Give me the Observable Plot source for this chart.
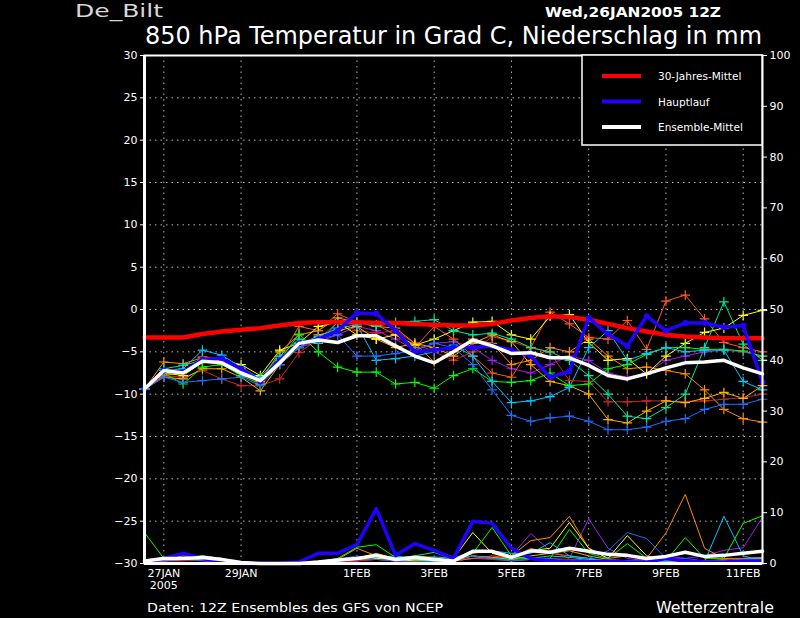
<!DOCTYPE html>
<html>
<head>
<meta charset="utf-8">
<script src="https://cdn.jsdelivr.net/npm/d3@7"></script>
<script src="https://cdn.jsdelivr.net/npm/@observablehq/plot@0.6"></script>
<style>
  body { margin: 0; background: #000; }
  #chart { width: 800px; height: 618px; }
</style>
</head>
<body>
<div id="chart"></div>
<script>
// 12-hourly steps from 26JAN2005 12Z to 11FEB2005 12Z
const start = Date.UTC(2005, 0, 26, 12)
const times = d3.range(33).map(i => new Date(start + i * 12 * 3600e3))

const dateTicks = [27, 29, 32, 34, 36, 38, 40, 42].map(d => new Date(Date.UTC(2005, 0, d)))
const leftTicks = d3.range(-30, 31, 5)
const rightTicks = [0, 10, 20, 30, 40, 50, 60, 70, 80, 90, 100]

// 850 hPa temperatures (deg C)
const climate = [-3.3,-3.3,-3.3,-2.9,-2.6,-2.4,-2.2,-1.9,-1.6,-1.5,-1.5,-1.5,-1.6,-1.6,-1.7,-1.8,-1.9,-1.9,-1.7,-1.3,-1.0,-0.8,-0.9,-1.2,-1.7,-2.2,-2.6,-3.0,-3.2,-3.3,-3.4,-3.4,-3.4]
const mainRun = [-9.4,-7.2,-7.4,-5.9,-5.8,-7.0,-8.5,-6.0,-4.0,-3.5,-2.5,-0.4,-0.5,-2.5,-5.0,-4.8,-4.5,-4.5,-4.3,-4.8,-5.5,-8.0,-7.3,-1.0,-2.9,-4.3,-0.8,-2.5,-1.6,-1.6,-2.1,-1.9,-8.6]
const ensMean = [-9.4,-7.2,-7.5,-6.1,-6.3,-7.5,-8.4,-6.3,-4.0,-3.6,-3.9,-3.1,-3.1,-4.3,-5.5,-6.3,-5.0,-3.6,-4.3,-5.2,-5.1,-5.7,-5.7,-6.6,-7.8,-8.2,-7.6,-6.9,-6.3,-6.2,-6.0,-6.9,-7.6]

const tDodger = [-9.4,-8.0,-8.6,-8.4,-8.2,-8.0,-9.0,-6.5,-4.5,-3.5,-3.0,-5.5,-5.5,-5.2,-4.8,-4.0,-4.5,-6.5,-9.5,-12.5,-13.2,-12.8,-12.6,-13.2,-14.2,-14.2,-13.9,-13.2,-12.9,-11.8,-11.2,-11.2,-10.6]
const tCyan = [-9.4,-7.2,-7.0,-4.8,-5.4,-6.8,-8.2,-5.8,-4.0,-3.2,-2.2,-1.8,-6.0,-5.8,-5.5,-5.0,-4.2,-5.5,-8.5,-11.0,-10.8,-10.3,-9.2,-4.5,-2.5,-6.0,-5.2,-4.5,-5.0,-4.8,-4.8,-8.5,-9.5]
const tGreen = [-9.4,-7.5,-8.8,-6.8,-6.5,-7.8,-8.8,-6.0,-2.9,-5.0,-6.8,-7.4,-7.4,-8.8,-8.6,-9.3,-7.8,-7.0,-8.5,-8.6,-8.4,-7.5,-9.0,-8.8,-7.0,-6.5,-5.3,-4.5,-4.5,-4.7,-4.7,-4.9,-5.5]
const tSpring = [-9.4,-7.0,-6.6,-6.0,-5.8,-7.5,-8.0,-5.5,-3.5,-4.0,-1.5,-1.5,-2.0,-1.5,-1.4,-1.2,-2.5,-3.0,-2.8,-3.5,-4.5,-5.0,-6.0,-7.8,-10.0,-12.6,-12.9,-11.6,-10.0,-4.5,0.9,-4.1,-6.0]
const tYellow = [-9.4,-7.5,-7.8,-6.2,-6.0,-6.5,-7.8,-4.8,-4.0,-2.0,-1.5,-3.0,-3.5,-3.0,-4.2,-3.5,-2.5,-1.5,-1.4,-3.0,-3.5,-0.8,-0.6,-3.9,-6.0,-5.8,-7.6,-5.5,-4.0,-2.7,-2.2,-0.7,-0.1]
const tGold = [-9.4,-8.0,-8.2,-7.0,-7.0,-8.0,-9.6,-6.5,-4.5,-3.0,-2.5,-2.0,-3.5,-4.5,-4.0,-4.5,-5.5,-4.0,-3.0,-3.8,-6.5,-8.5,-9.0,-10.0,-13.0,-13.4,-12.0,-10.8,-11.0,-10.5,-9.8,-10.5,-9.0]
const tOrange = [-9.4,-6.2,-6.4,-5.7,-6.5,-7.0,-8.5,-5.0,-3.0,-2.5,-1.0,-1.5,-2.0,-2.2,-4.0,-6.2,-5.0,-3.5,-4.0,-6.5,-6.0,-4.5,-5.0,-3.5,-5.5,-7.0,-6.8,-7.2,-7.6,-9.5,-11.8,-12.9,-13.3]
const tOrangeRed = [-9.4,-7.8,-7.4,-5.6,-5.8,-7.2,-8.8,-5.8,-2.0,-2.5,-0.5,-1.5,-1.8,-3.0,-4.5,-2.0,-3.5,-5.5,-7.5,-8.0,-4.5,-0.3,-1.7,-3.3,-3.5,-1.3,-4.7,1.0,1.7,-1.1,-3.9,-4.5,-5.0]
const tFirebrick = [-9.4,-7.8,-8.0,-7.2,-8.2,-9.0,-9.0,-8.2,-5.1,-3.5,-1.5,-2.5,-2.8,-2.5,-4.0,-5.0,-6.0,-5.0,-3.2,-3.8,-4.5,-5.1,-8.4,-8.5,-10.9,-10.9,-10.8,-10.8,-10.9,-10.8,-10.6,-10.4,-10.0]
const tPurple = [-9.4,-7.5,-7.2,-6.2,-6.0,-7.2,-8.6,-6.5,-4.5,-3.8,-3.0,-2.0,-2.5,-3.5,-4.8,-4.0,-3.8,-4.5,-6.0,-7.0,-7.5,-6.5,-5.5,-6.0,-7.5,-8.0,-7.5,-6.0,-5.5,-5.0,-4.8,-5.0,-5.5]

// precipitation (mm), right axis
const pMain = [0.3,1.0,2.0,1.0,0.3,0,0,0,0.3,2.0,2.0,3.7,10.8,1.6,3.9,2.6,1.0,8.3,7.9,3.0,1.0,0.5,0.3,0.3,0.5,0.3,0.3,1.0,0.5,0.3,0.3,0.5,0.5]
const pMean = [0.5,1.0,1.0,1.2,0.8,0.2,0,0,0,0.3,0.7,1.0,1.6,0.8,1.2,0.8,0.5,2.4,2.4,1.2,2.5,2.2,3.0,2.4,1.8,1.6,1.0,1.4,2.2,1.4,1.6,2.0,2.4]
const pDodger = [0.3,0.5,0.8,0.6,0.3,0,0,0,0,0.5,0.8,1.5,0.8,0.5,0.3,0.5,0.8,1.5,1.0,0.5,0.8,1.0,0.5,1.0,2.5,6.1,4.9,1.0,1.0,0.5,0.3,0.5,0.8]
const pCyan = [0.5,0.8,1.0,1.2,0.5,0,0,0,0,0.3,0.5,1.0,1.2,1.5,1.0,1.3,1.0,2.5,2.5,2.0,2.0,4.1,1.5,1.0,0.5,0.5,0.3,0.5,0.5,0.3,9.3,1.5,0.5]
const pGreen = [6.1,1.0,0.8,1.0,0.8,0,0,0,0,0.3,1.0,3.2,3.7,1.2,0.8,0.5,0.5,2.0,7.1,1.5,0.8,1.0,6.7,2.0,1.0,3.9,1.0,0.5,5.1,1.0,1.0,7.9,9.4]
const pSpring = [0.5,1.0,1.2,1.5,1.0,0,0,0,0,0.2,0.5,1.0,1.2,1.0,1.5,2.2,0.8,1.5,1.0,0.8,1.0,1.5,1.2,0.8,0.5,0.5,0.5,0.8,0.5,0.3,0.5,0.8,1.0]
const pYellow = [0.3,0.8,1.0,0.8,0.5,0,0,0,0,0.2,0.5,0.8,1.0,0.8,0.5,0.5,1.0,6.1,2.0,1.0,2.5,3.0,8.1,3.0,1.0,5.5,1.5,0.5,0.5,0.3,0.5,0.5,0.8]
const pGold = [0.5,1.2,1.0,1.5,1.0,0,0,0,0,0.3,0.5,1.0,2.0,1.0,0.8,0.5,0.5,1.5,1.2,0.8,1.5,2.0,2.5,1.5,0.8,0.5,0.5,0.3,0.3,0.5,0.5,0.8,1.0]
const pOrange = [0.3,0.8,1.5,1.2,0.8,0.3,0,0,0,0.2,0.8,3.0,1.5,1.0,1.5,1.2,0.5,2.0,2.5,1.5,4.5,5.1,9.3,3.0,1.0,1.5,1.0,6.0,13.6,3.0,1.0,1.0,1.2]
const pOrangeRed = [0.3,0.5,0.8,1.0,0.5,0,0,0,0,0.3,0.5,1.0,1.0,0.8,1.2,1.0,0.5,1.0,1.5,1.0,3.0,2.0,1.5,1.0,0.5,0.5,0.8,0.5,0.5,0.5,0.8,1.0,1.2]
const pFirebrick = [0.2,0.5,0.5,0.8,0.5,0,0,0,0,0.2,0.3,0.5,0.8,0.5,0.5,0.8,0.5,1.0,0.8,0.5,0.8,1.0,0.8,0.5,0.3,0.5,0.3,0.3,0.5,0.3,0.5,0.5,0.8]
const pPurple = [0.3,0.5,0.8,0.5,0.3,0,0,0,0,0.2,0.3,0.5,0.8,0.5,0.5,0.8,0.5,1.0,1.0,1.5,5.9,2.5,1.0,8.8,3.0,1.0,0.5,1.5,1.0,1.5,2.6,3.1,9.1]

const members = [
  {color: "#a020f0", t: tPurple, p: pPurple},
  {color: "#c82828", t: tFirebrick, p: pFirebrick},
  {color: "#ffb000", t: tGold, p: pGold},
  {color: "#ff8c00", t: tOrange, p: pOrange},
  {color: "#ff5a1e", t: tOrangeRed, p: pOrangeRed},
  {color: "#ffff00", t: tYellow, p: pYellow},
  {color: "#00e8a0", t: tSpring, p: pSpring},
  {color: "#00ff00", t: tGreen, p: pGreen},
  {color: "#00c8ff", t: tCyan, p: pCyan},
  {color: "#1e6eff", t: tDodger, p: pDodger}
]

// precip drawn on the temperature scale: 0..100 mm -> -30..30
const pToY = p => p * 0.6 - 30

const rows = (vals, color) => vals.map((v, i) => ({time: times[i], v, color}))
const memberT = members.flatMap(m => rows(m.t, m.color))
const memberP = members.flatMap(m => rows(m.p, m.color))

const grid = {stroke: "#b4b4b4", strokeOpacity: 1, strokeDasharray: "1.5,4", strokeWidth: 1}

let chart = Plot.plot({
  width: 800,
  height: 618,
  marginLeft: 144,
  marginRight: 38,
  marginTop: 55,
  marginBottom: 55,
  style: {background: "#000", color: "#fff", fontFamily: "DejaVu Sans", fontSize: "11px"},
  x: {type: "utc", domain: [times[0], times[32]]},
  y: {domain: [-30, 30]},
  color: {type: "identity"},
  marks: [
    Plot.gridY(leftTicks.slice(1, -1), grid),
    Plot.gridX(dateTicks, grid),
    // precipitation
    Plot.line(memberP, {x: "time", y: d => pToY(d.v), z: "color", stroke: "color", strokeWidth: 1}),
    Plot.line(rows(pMain), {x: "time", y: d => pToY(d.v), stroke: "#2200ff", strokeWidth: 3.5}),
    Plot.line(rows(pMean), {x: "time", y: d => pToY(d.v), stroke: "#fff", strokeWidth: 3.5}),
    // temperature members
    Plot.line(memberT, {x: "time", y: "v", z: "color", stroke: "color", strokeWidth: 1}),
    Plot.dot(memberT, {x: "time", y: "v", stroke: "color", symbol: "plus", r: 3.2, strokeWidth: 1.2}),
    Plot.line(rows(climate), {x: "time", y: "v", stroke: "#ff0000", strokeWidth: 4.5}),
    Plot.line(rows(mainRun), {x: "time", y: "v", stroke: "#2200ff", strokeWidth: 3.5}),
    Plot.dot(rows(mainRun), {x: "time", y: "v", fill: "#2200ff", r: 3}),
    Plot.line(rows(ensMean), {x: "time", y: "v", stroke: "#fff", strokeWidth: 3.5}),
    Plot.frame({stroke: "#fff", strokeWidth: 2}),
    Plot.ruleY([-30], {stroke: "#fff", strokeWidth: 3}),
    Plot.ruleX([times[0]], {stroke: "#fff", strokeWidth: 3}),
    Plot.axisY({anchor: "left", ticks: leftTicks, tickSize: 4, tickPadding: 3, label: null}),
    Plot.axisY({anchor: "right", ticks: rightTicks.map(pToY), tickFormat: d => Math.round((d + 30) / 0.6), tickSize: 4, tickPadding: 3, label: null}),
    Plot.axisX({ticks: dateTicks, tickSize: 0, tickPadding: 5, label: null, lineHeight: 1.1,
      tickFormat: (d, i) => d3.utcFormat("%-d%b")(d).toUpperCase() + (i === 0 ? "\n2005" : "")})
  ]
})

const svg = d3.select(chart)
const addText = (x, y, size, str, len, extra = {}) => {
  const t = svg.append("text").attr("x", x).attr("y", y).attr("fill", extra.fill || "#fff")
    .attr("text-anchor", "start").attr("font-size", size)
    .attr("textLength", len).attr("lengthAdjust", "spacingAndGlyphs").text(str)
  if (extra.bold) t.attr("font-weight", "bold")
  return t
}

// titles
addText(75, 17, 18, "De_Bilt", 88, {fill: "#d8d8d8"})
addText(545, 17, 14, "Wed,26JAN2005 12Z", 176, {bold: true})
addText(145, 44, 24, "850 hPa Temperatur in Grad C, Niederschlag in mm", 617)
addText(147, 612, 13, "Daten: 12Z Ensembles des GFS von NCEP", 296)
addText(656, 613, 15, "Wetterzentrale", 118)

// legend box
const legend = [
  {label: "30-Jahres-Mittel", color: "#ff0000"},
  {label: "Hauptlauf", color: "#2200ff"},
  {label: "Ensemble-Mittel", color: "#fff"}
]
svg.append("rect").attr("x", 582).attr("y", 55).attr("width", 180).attr("height", 90)
  .attr("fill", "#000").attr("stroke", "#fff").attr("stroke-width", 1.5)
legend.forEach((d, i) => {
  const y = 76 + i * 25.5
  svg.append("line").attr("x1", 602).attr("x2", 641).attr("y1", y).attr("y2", y)
    .attr("stroke", d.color).attr("stroke-width", 4)
  svg.append("text").attr("x", 658).attr("y", y + 4).attr("fill", "#fff")
    .attr("text-anchor", "start").attr("font-size", 10.5).text(d.label)
})

d3.select('#chart').append(() => chart)
</script>
</body>
</html>
